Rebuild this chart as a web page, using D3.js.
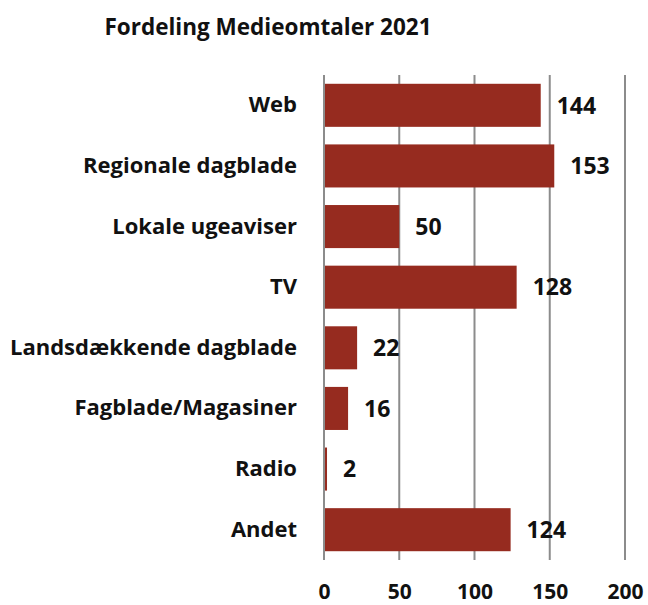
<!DOCTYPE html>
<html>
<head>
<meta charset="utf-8">
<script src="https://cdn.jsdelivr.net/npm/d3@7"></script>
<style>
  body { margin: 0; background: #fff; }
  text { font-family: "Open Sans", "Noto Sans", sans-serif; font-weight: bold; fill: #111; }
</style>
</head>
<body>
<script>
// chart data
const categories = ["Web", "Regionale dagblade", "Lokale ugeaviser", "TV",
  "Landsdækkende dagblade", "Fagblade/Magasiner", "Radio", "Andet"];
const values = [144, 153, 50, 128, 22, 16, 2, 124];
const tickValues = [0, 50, 100, 150, 200];

const width = 648;
const height = 605;
const margin = {top: 75, right: 23, bottom: 45, left: 324};
const barColor = "#962b1f";

const svg = d3.select('body')
  .append('svg')
  .attr('width', width)
  .attr('height', height);

const x = d3.scaleLinear()
  .domain([0, 200])
  .range([margin.left, width - margin.right]);

const y = d3.scaleBand()
  .domain(categories)
  .range([margin.top, height - margin.bottom])
  .paddingInner(0.29)
  .paddingOuter(0.145);

// title
svg.append('text')
  .attr('x', 268)
  .attr('y', 35)
  .attr('text-anchor', 'middle')
  .style('font-size', '22.5px')
  .text('Fordeling Medieomtaler 2021');

// gridlines
svg.append('g')
  .selectAll('line')
  .data(tickValues)
  .join('line')
    .attr('x1', (d) => x(d))
    .attr('x2', (d) => x(d))
    .attr('y1', margin.top)
    .attr('y2', height - margin.bottom)
    .attr('stroke', '#8c8c8c')
    .attr('stroke-width', 2);

// bars
svg.append('g')
  .selectAll('rect')
  .data(values)
  .join('rect')
    .attr('x', x(0) + 1)
    .attr('y', (d, i) => y(categories[i]))
    .attr('width', (d) => Math.max(x(d) - x(0) - 1, 1.5))
    .attr('height', y.bandwidth())
    .attr('fill', barColor);

// value labels
svg.append('g')
  .selectAll('text')
  .data(values)
  .join('text')
    .attr('x', (d) => x(d) + 16)
    .attr('y', (d, i) => y(categories[i]) + y.bandwidth() / 2)
    .attr('dy', '0.36em')
    .style('font-size', '23px')
    .text((d) => d);

// category labels
const yAxis = svg.append('g')
  .attr('transform', `translate(${margin.left},0)`)
  .call(d3.axisLeft(y).tickSize(0).tickPadding(27));
yAxis.select('.domain').remove();
yAxis.selectAll('text')
  .style('font-size', '22px')
  .style('font-family', '"Open Sans", sans-serif')
  .style('font-weight', 'bold')
  .attr('fill', '#111');

// x tick labels
const xAxis = svg.append('g')
  .attr('transform', `translate(0,${height - margin.bottom})`)
  .call(d3.axisBottom(x).tickValues(tickValues).tickSize(0).tickPadding(24));
xAxis.select('.domain').remove();
xAxis.selectAll('text')
  .style('font-size', '21px')
  .style('font-family', '"Open Sans", sans-serif')
  .style('font-weight', 'bold')
  .attr('fill', '#111');
</script>
</body>
</html>
